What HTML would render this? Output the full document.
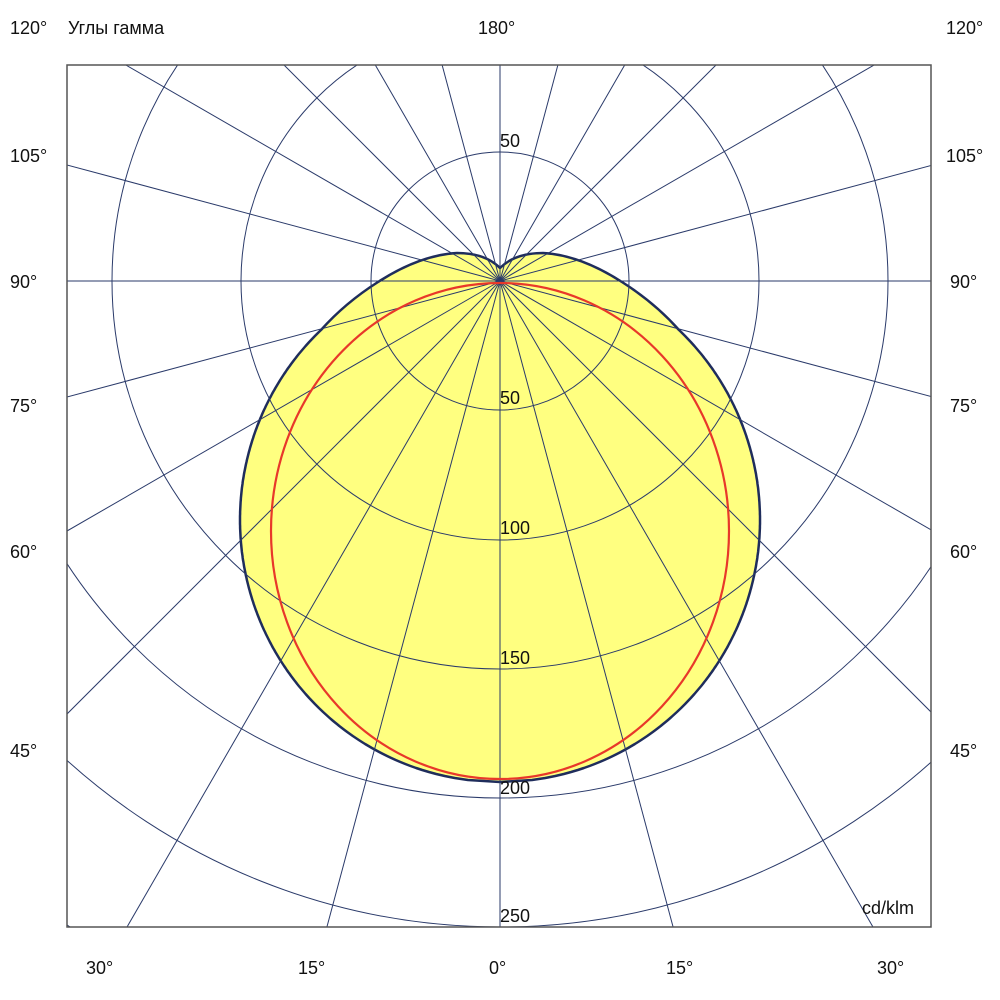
<!DOCTYPE html>
<html><head><meta charset="utf-8"><style>
html,body{margin:0;background:#fff;overflow:hidden;width:1000px;height:1000px}
svg{display:block}
text{font-family:"Liberation Sans","DejaVu Sans",sans-serif;font-size:18px;fill:#111}
</style></head><body>
<svg width="1000" height="1000" viewBox="0 0 1000 1000" xmlns="http://www.w3.org/2000/svg">
<defs><clipPath id="c"><rect x="67" y="65" width="864" height="862"/></clipPath></defs>
<g clip-path="url(#c)">
<path id="shape" d="" fill="#ffff80" stroke="#1f2d5c" stroke-width="2.5" stroke-linejoin="round"/>
<g fill="none" stroke="#2a3a6a" stroke-width="1">
<circle cx="500" cy="281" r="129"/>
<circle cx="500" cy="281" r="259"/>
<circle cx="500" cy="281" r="388"/>
<circle cx="500" cy="281" r="517"/>
<circle cx="500" cy="281" r="646"/>
<circle cx="500" cy="281" r="776"/>
<circle cx="500" cy="281" r="905"/>
<g id="sp">
<line x1="500" y1="281" x2="500" y2="1400"/>
<line x1="500" y1="281" x2="500" y2="1400" transform="rotate(15 500 281)"/>
<line x1="500" y1="281" x2="500" y2="1400" transform="rotate(30 500 281)"/>
<line x1="500" y1="281" x2="500" y2="1400" transform="rotate(45 500 281)"/>
<line x1="500" y1="281" x2="500" y2="1400" transform="rotate(60 500 281)"/>
<line x1="500" y1="281" x2="500" y2="1400" transform="rotate(75 500 281)"/>
<line x1="500" y1="281" x2="500" y2="1400" transform="rotate(90 500 281)"/>
<line x1="500" y1="281" x2="500" y2="1400" transform="rotate(105 500 281)"/>
<line x1="500" y1="281" x2="500" y2="1400" transform="rotate(120 500 281)"/>
<line x1="500" y1="281" x2="500" y2="1400" transform="rotate(135 500 281)"/>
<line x1="500" y1="281" x2="500" y2="1400" transform="rotate(150 500 281)"/>
<line x1="500" y1="281" x2="500" y2="1400" transform="rotate(165 500 281)"/>
</g>
<use href="#sp" transform="rotate(180 500 281)"/>
</g>
<ellipse cx="500" cy="531" rx="229" ry="248" fill="none" stroke="#e8382a" stroke-width="2.2"/>
</g>
<rect x="67" y="65" width="864" height="862" fill="none" stroke="#555" stroke-width="1.5"/>
<text x="10" y="34">120°</text>
<text x="68" y="34">Углы гамма</text>
<text x="478" y="34">180°</text>
<text x="946" y="34">120°</text>
<text x="10" y="162">105°</text><text x="946" y="162">105°</text>
<text x="10" y="288">90°</text><text x="950" y="288">90°</text>
<text x="10" y="412">75°</text><text x="950" y="412">75°</text>
<text x="10" y="558">60°</text><text x="950" y="558">60°</text>
<text x="10" y="757">45°</text><text x="950" y="757">45°</text>
<text x="86" y="974">30°</text>
<text x="298" y="974">15°</text>
<text x="489" y="974">0°</text>
<text x="666" y="974">15°</text>
<text x="877" y="974">30°</text>
<text x="500" y="147">50</text>
<text x="500" y="404">50</text>
<text x="500" y="534">100</text>
<text x="500" y="664">150</text>
<text x="500" y="794">200</text>
<text x="500" y="922">250</text>
<text x="862" y="914">cd/klm</text>
</svg>
<script>
var cx=500,cy=520,rx=260,ry=262;
function xe(y){var t=(y-cy)/ry;return rx*Math.sqrt(Math.max(0,1-t*t));}
var x330=xe(330);
var d="M500,268 Q485,253 457,253 Q420,255 378,282 Q345,303 "+(cx-x330).toFixed(1)+",330";
for(var y=332;y<=782;y+=2){d+=" L"+(cx-xe(y)).toFixed(1)+","+y;}
for(var y=782;y>=332;y-=2){d+=" L"+(cx+xe(y)).toFixed(1)+","+y;}
d+=" L"+(cx+x330).toFixed(1)+",330 Q655,303 622,282 Q580,255 543,253 Q515,253 500,268 Z";
document.getElementById("shape").setAttribute("d",d);
</script>
</body></html>
